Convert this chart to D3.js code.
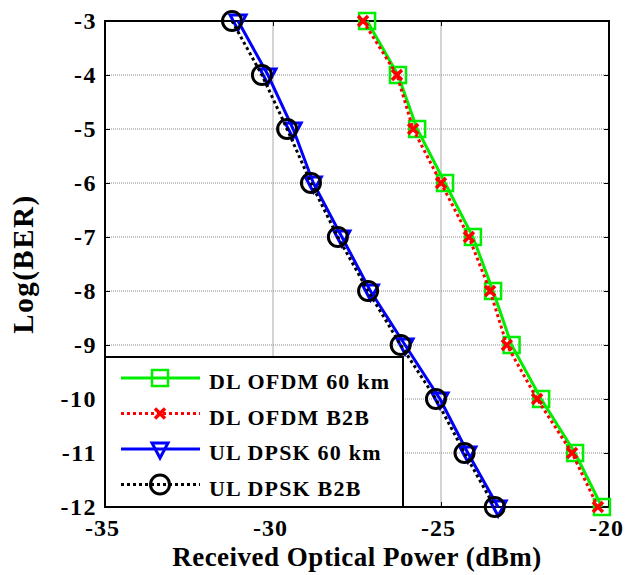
<!DOCTYPE html>
<html>
<head>
<meta charset="utf-8">
<script src="https://cdn.jsdelivr.net/npm/d3@7"></script>
<style>
  body { margin: 0; background: #fff; }
  text { font-family: "Liberation Serif", "Times New Roman", serif; font-weight: bold; }
</style>
</head>
<body>
<div id="chart"></div>
<script>
// Log(BER) levels shared by every curve
const berLevels = [-3, -4, -5, -6, -7, -8, -9, -10, -11, -12];

// Received optical power (dBm) for each curve
const dlOfdm60km = [-27.2, -26.28, -25.71, -24.88, -24.05, -23.45, -22.9, -22.02, -21.01, -20.21];
const dlOfdmB2B  = [-27.32, -26.31, -25.83, -25.0, -24.17, -23.54, -23.04, -22.14, -21.1, -20.33];
const ulDpsk60km = [-31.04, -30.15, -29.4, -28.8, -27.95, -27.1, -26.07, -25.03, -24.2, -23.3];
const ulDpskB2B  = [-31.22, -30.33, -29.58, -28.87, -28.07, -27.17, -26.2, -25.15, -24.3, -23.4];

const xTicks = [-35, -30, -25, -20];
const yTicks = [-3, -4, -5, -6, -7, -8, -9, -10, -11, -12];

const seriesNames = ["DL OFDM 60 km", "DL OFDM B2B", "UL DPSK 60 km", "UL DPSK B2B"];

const width = 627, height = 575;
const margin = { top: 21, right: 18, bottom: 68, left: 105 };

const series = [
    { name: seriesNames[0], x: dlOfdm60km, color: "#00ee00", dash: null, marker: "square" },
    { name: seriesNames[1], x: dlOfdmB2B, color: "#ff0000", dash: "3,3", marker: "cross" },
    { name: seriesNames[2], x: ulDpsk60km, color: "#0000ff", dash: null, marker: "triangle" },
    { name: seriesNames[3], x: ulDpskB2B, color: "#000000", dash: "3,3", marker: "circle" },
];

const svg = d3.select("#chart").append("svg")
    .attr("width", width)
    .attr("height", height);

const x = d3.scaleLinear()
    .domain([-35, -20])
    .range([margin.left, width - margin.right]);

const y = d3.scaleLinear()
    .domain([-12, -3])
    .range([height - margin.bottom, margin.top]);

// plain hyphen for negatives, like the original
const fmt = d => String(d);

// grid
svg.append("g")
    .selectAll("line")
    .data(xTicks.slice(1, -1))
    .join("line")
    .attr("x1", d => x(d)).attr("x2", d => x(d))
    .attr("y1", y(-3)).attr("y2", y(-12))
    .attr("stroke", "#aaa")
    .attr("stroke-width", 1);

svg.append("g")
    .selectAll("line")
    .data(yTicks.slice(1, -1))
    .join("line")
    .attr("x1", x(-35)).attr("x2", x(-20))
    .attr("y1", d => y(d)).attr("y2", d => y(d))
    .attr("stroke", "#888")
    .attr("stroke-width", 1)
    .attr("stroke-dasharray", "1,1");

// axes (ticks point inward like MATLAB)
svg.append("g")
    .attr("transform", `translate(0,${y(-12)})`)
    .call(d3.axisBottom(x).tickValues(xTicks).tickFormat(fmt).tickSizeInner(-5).tickSizeOuter(0).tickPadding(12))
    .call(g => g.select(".domain").remove())
    .call(g => g.selectAll("text").attr("font-size", 24).attr("dx", -3).attr("fill", "#000").attr("letter-spacing", 1));

svg.append("g")
    .attr("transform", `translate(${x(-35)},0)`)
    .call(d3.axisLeft(y).tickValues(yTicks).tickFormat(fmt).tickSizeInner(-5).tickSizeOuter(0).tickPadding(8))
    .call(g => g.select(".domain").remove())
    .call(g => g.selectAll("text").attr("font-size", 24).attr("fill", "#000").attr("letter-spacing", 1.5));

svg.append("g")
    .attr("transform", `translate(${x(-20)},0)`)
    .call(d3.axisRight(y).tickValues(yTicks).tickSizeInner(-5).tickSizeOuter(0).tickFormat(""))
    .call(g => g.select(".domain").remove());

svg.append("g")
    .attr("transform", `translate(0,${y(-3)})`)
    .call(d3.axisTop(x).tickValues(xTicks).tickSizeInner(-5).tickSizeOuter(0).tickFormat(""))
    .call(g => g.select(".domain").remove());

svg.append("rect")
    .attr("x", x(-35)).attr("y", y(-3))
    .attr("width", x(-20) - x(-35))
    .attr("height", y(-12) - y(-3))
    .attr("fill", "none")
    .attr("stroke", "#000")
    .attr("stroke-width", 2);

// markers
function drawMarker(g, type, cx, cy, color) {
    if (type === "square") {
        g.append("rect")
            .attr("x", cx - 8).attr("y", cy - 8)
            .attr("width", 16).attr("height", 16)
            .attr("fill", "none").attr("stroke", color).attr("stroke-width", 2.5);
    } else if (type === "cross") {
        g.append("path")
            .attr("d", `M${cx - 5},${cy - 5}L${cx + 5},${cy + 5}M${cx - 5},${cy + 5}L${cx + 5},${cy - 5}`)
            .attr("stroke", color).attr("stroke-width", 3.5);
    } else if (type === "triangle") {
        g.append("path")
            .attr("d", `M${cx - 8},${cy - 6}L${cx + 8},${cy - 6}L${cx},${cy + 9}Z`)
            .attr("fill", "none").attr("stroke", color).attr("stroke-width", 3);
    } else if (type === "circle") {
        g.append("circle")
            .attr("cx", cx).attr("cy", cy).attr("r", 9.5)
            .attr("fill", "none").attr("stroke", color).attr("stroke-width", 3);
    }
}

const line = d3.line()
    .x(d => x(d[0]))
    .y(d => y(d[1]));

for (const s of series) {
    const pts = s.x.map((v, i) => [v, berLevels[i]]);
    const g = svg.append("g");
    g.append("path")
        .datum(pts)
        .attr("d", line)
        .attr("fill", "none")
        .attr("stroke", s.color)
        .attr("stroke-width", 3)
        .attr("stroke-dasharray", s.dash);
    for (const p of pts) drawMarker(g, s.marker, x(p[0]), y(p[1]), s.color);
}

// legend
const lg = svg.append("g");
const lgX = x(-35), lgY = 357, lgW = 298, lgH = y(-12) - 357;
lg.append("rect")
    .attr("x", lgX).attr("y", lgY)
    .attr("width", lgW).attr("height", lgH)
    .attr("fill", "#fff")
    .attr("stroke", "#000")
    .attr("stroke-width", 2);

series.forEach((s, i) => {
    const ly = 378 + i * 35.5;
    lg.append("line")
        .attr("x1", lgX + 16).attr("x2", lgX + 95)
        .attr("y1", ly).attr("y2", ly)
        .attr("stroke", s.color)
        .attr("stroke-width", 3)
        .attr("stroke-dasharray", s.dash);
    drawMarker(lg, s.marker, lgX + 55, ly, s.color);
    lg.append("text")
        .attr("x", lgX + 104)
        .attr("y", ly + 11)
        .attr("font-size", 22)
        .attr("letter-spacing", 1.2)
        .attr("fill", "#000")
        .text(s.name);
});

// axis labels
svg.append("text")
    .attr("x", (x(-35) + x(-20)) / 2)
    .attr("y", 566)
    .attr("text-anchor", "middle")
    .attr("font-size", 27)
    .attr("letter-spacing", 0.5)
    .text("Received Optical Power (dBm)");

svg.append("text")
    .attr("transform", `translate(33,${(y(-3) + y(-12)) / 2}) rotate(-90)`)
    .attr("text-anchor", "middle")
    .attr("font-size", 29)
    .attr("letter-spacing", 1.5)
    .text("Log(BER)");
</script>
</body>
</html>
